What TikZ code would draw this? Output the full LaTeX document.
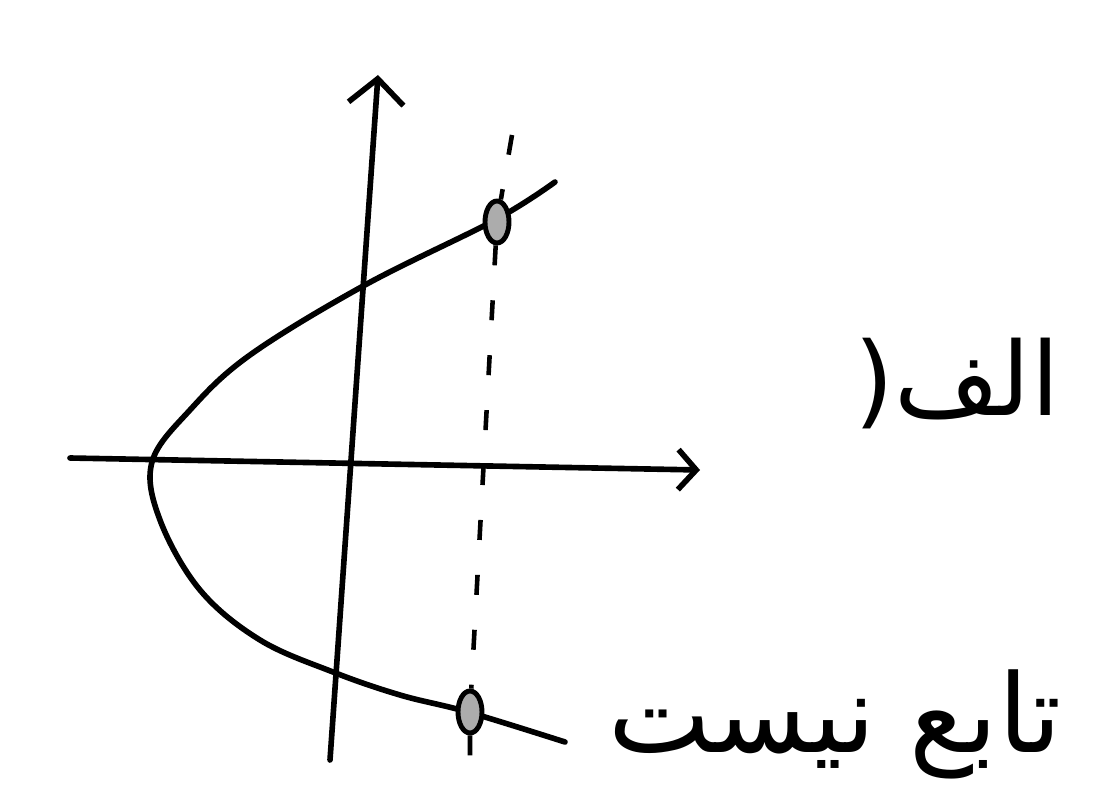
\documentclass[tikz,border=0pt]{standalone}
\usepackage{fontspec}
\usepackage{tikz}
\usetikzlibrary{arrows.meta,shapes.geometric}
\newfontfamily\arabicfont[Script=Arabic]{DejaVu Sans}
\TeXXeTstate=1

\begin{document}
\begin{tikzpicture}[
    axis/.style={line width=1.6pt, line cap=round,
                 -{Straight Barb[length=2.5mm, width=5.5mm, line width=1.6pt]}},
    curve/.style={line width=1.6pt, line join=round, line cap=round},
    guide/.style={line width=1.3pt, dash pattern=on 2mm off 3.5mm},
    point/.style={ellipse, draw, line width=1.4pt, fill=gray!65,
                  minimum width=2.4mm, minimum height=4.2mm, inner sep=0pt},
    arlabel/.style={font=\arabicfont\fontsize{29}{35}\selectfont}
  ]
  \useasboundingbox (-3.45,-3.43) rectangle (7.52,4.62);
  % axes
  \coordinate (xs) at (-2.75,0.04);
  \coordinate (xe) at (3.55,-0.08);
  \coordinate (ys) at (-0.15,-2.98);
  \coordinate (ye) at (0.33,3.87);
  \draw[axis, -{Straight Barb[length=1.8mm, width=4mm, line width=1.6pt]}] (xs) -- (xe);
  \draw[axis] (ys) -- (ye);
  % x = y^2 kind of curve
  \draw[curve] plot[smooth, tension=0.6] coordinates {(2.10,2.80) (1.50,2.42)
    (0.20,1.77) (-0.95,1.07) (-1.55,0.52) (-1.93,0) (-1.85,-0.58)
    (-1.45,-1.28) (-0.85,-1.78) (-0.12,-2.10) (0.55,-2.33) (1.23,-2.50)
    (2.20,-2.80)};
  % vertical test line
  \node[point] (p1) at (1.52,2.40) {};
  \node[point] (p2) at (1.25,-2.50) {};
  \coordinate (dtop) at (1.67,3.27);
  \coordinate (dbot) at (1.25,-3.28);
  \draw[guide] (dtop) -- (p1) -- (p2) -- (dbot);
  % labels
  \node[arlabel] (part) at (6.12,0.79) {(\kern0pt\beginR الف\endR};
  \node[arlabel, font=\arabicfont\fontsize{31}{37}\selectfont] (verdict)
    at (4.90,-2.62) {\beginR تابع نیست\endR};
\end{tikzpicture}
\end{document}
